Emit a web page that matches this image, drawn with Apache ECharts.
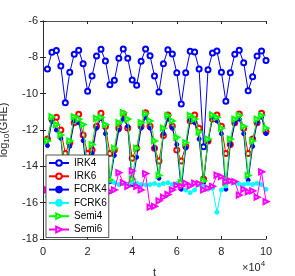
<!DOCTYPE html>
<html><head><meta charset="utf-8">
<script src="https://cdn.jsdelivr.net/npm/echarts@6/dist/echarts.min.js"></script>
<style>html,body{margin:0;padding:0;background:#fff}#c{width:295px;height:276px}</style>
</head><body><div id="c"></div>
<script>
var t = [2000,4000,6000,8000,10000,12000,14000,16000,18000,20000,
 22000,24000,26000,28000,30000,32000,34000,36000,38000,40000,
 42000,44000,46000,48000,50000,52000,54000,56000,58000,60000,
 62000,64000,66000,68000,70000,72000,74000,76000,78000,80000,
 82000,84000,86000,88000,90000,92000,94000,96000,98000,100000];
var xTicks = [0,2,4,6,8,10];
var yTicks = [-18,-16,-14,-12,-10,-8,-6];
var seriesNames = ['IRK4','IRK6','FCRK4','FCRK6','Semi4','Semi6'];
var IRK4 = [-8.64,-7.72,-7.63,-8.48,-10.50,-8.82,-7.83,-7.61,-8.35,-9.87,
 -9.03,-7.93,-7.56,-8.20,-9.51,-9.26,-8.05,-7.54,-8.05,-9.25,
 -9.54,-8.22,-7.54,-7.91,-9.03,-9.91,-8.35,-7.58,-7.82,-8.85,
 -10.57,-8.85,-7.67,-7.71,-8.64,-12.92,-8.68,-7.76,-7.65,-8.82,
 -10.42,-8.85,-7.83,-7.61,-8.30,-9.84,-9.07,-7.93,-7.65,-8.18];
var IRK6 = [-12.5,-11.4,-11.3,-12.0,-13.3,-12.7,-11.6,-11.13,-12.27,-13.3,
 -13.1,-11.8,-11.08,-11.8,-13.3,-13.1,-11.89,-11.1,-11.89,-13.56,
 -13.0,-11.8,-11.05,-11.8,-13.0,-13.7,-12.3,-11.17,-11.8,-13.1,
 -13.7,-12.9,-11.5,-11.17,-11.9,-14.7,-12.6,-11.4,-11.17,-11.8,
 -13.3,-12.8,-11.6,-11.12,-11.9,-13.3,-12.5,-11.6,-11.08,-12.1];
var FCRK4 = [-12.86,-11.54,-12.0,-12.46,-14.9,-12.9,-11.5,-11.6,-12.59,-14.9,
 -13.3,-11.9,-11.36,-12.2,-14.85,-13.4,-12.0,-11.4,-11.8,-15.0,
 -13.5,-11.9,-11.3,-11.9,-13.0,-14.66,-12.2,-11.4,-11.9,-12.8,
 -15.26,-13.0,-11.45,-11.6,-12.5,-14.9,-12.6,-11.3,-11.5,-12.2,
 -15.26,-12.8,-11.63,-11.4,-12.2,-14.75,-12.9,-11.6,-11.3,-12.2];
var FCRK6 = [-15.67,-15.3,-15.1,-15.0,-15.05,-15.0,-14.95,-15.0,-15.05,-15.0,
 -14.95,-15.0,-14.95,-14.95,-14.8,-14.9,-15.0,-14.95,-15.0,-14.9,
 -14.93,-15.0,-15.03,-15.0,-14.95,-15.03,-14.95,-14.9,-15.0,-14.95,
 -15.05,-15.3,-15.45,-15.3,-15.03,-15.1,-15.26,-15.2,-16.53,-15.3,
 -15.08,-14.85,-14.9,-14.97,-15.0,-14.95,-15.0,-14.93,-15.0,-15.26];
var Semi4 = [-12.6,-11.27,-11.7,-12.27,-14.5,-12.6,-11.27,-11.4,-11.7,-14.5,
 -12.8,-11.36,-11.3,-11.7,-14.75,-13.0,-11.6,-11.05,-11.4,-14.7,
 -13.0,-11.6,-11.1,-11.5,-12.6,-14.5,-11.9,-11.2,-11.5,-12.4,
 -14.9,-12.7,-11.2,-11.4,-12.1,-14.8,-12.5,-11.17,-11.3,-11.9,
 -14.9,-12.5,-11.4,-11.2,-11.8,-14.5,-12.6,-11.4,-11.2,-11.9];
var Semi6 = [-15.3,-15.2,-15.3,-15.1,-15.3,-15.2,-15.4,-15.2,-15.3,-15.1,
 -15.3,-15.2,-15.4,-15.5,-15.4,-15.3,-14.35,-14.9,-15.1,-14.25,
 -15.1,-15.3,-14.4,-16.25,-16.2,-15.9,-15.7,-15.55,-15.3,-15.05,
 -15.1,-14.93,-15.08,-14.93,-14.95,-15.3,-15.2,-15.1,-14.48,-14.57,
 -14.84,-14.8,-14.84,-15.58,-15.26,-15.4,-15.35,-15.7,-14.3,-15.94];

function pairs(v){ return t.map(function(x,i){ return [x, v[i]]; }); }
var AX = '#262626';
var FONT = 'Liberation Sans, Arial, sans-serif';
var styles = [
  {c:'#0000ff', sym:'emptyCircle', size:5, rot:0},
  {c:'#ff0000', sym:'emptyCircle', size:5, rot:0},
  {c:'#0000ff', sym:'circle', size:4, rot:0},
  {c:'#00ffff', sym:'circle', size:4, rot:0},
  {c:'#00ff00', sym:'emptyTriangle', size:5, rot:-90},
  {c:'#ff00ff', sym:'emptyTriangle', size:5, rot:-90}
];
var dataSets = [IRK4, IRK6, FCRK4, FCRK6, Semi4, Semi6];
var series = seriesNames.map(function(n,i){
  var s = styles[i];
  return {name:n, type:'line', data:pairs(dataSets[i]), symbol:s.sym, symbolSize:s.size,
    symbolRotate:s.rot, showAllSymbol:true, animation:false, z:2+i*0.01,
    lineStyle:{color:s.c, width:1}, itemStyle:{color:s.c, borderColor:s.c, borderWidth:1}};
});
var chart = echarts.init(document.getElementById('c'));
chart.setOption({
  backgroundColor:'#fff',
  animation:false,
  grid:{left:43, right:29, top:21, bottom:37, containLabel:false, outerBoundsMode:'none'},
  legend:{orient:'vertical', left:46, top:155, data:seriesNames,
    itemWidth:20, itemHeight:7, itemGap:1.3, padding:[2,2,2,2],
    backgroundColor:'#fff', borderColor:AX, borderWidth:0.8, borderRadius:0,
    textStyle:{fontFamily:FONT, fontSize:10, color:'#000', lineHeight:12}, z:10},
  xAxis:[{type:'value', min:0, max:100000, interval:20000,
    name:'t', nameLocation:'middle', nameGap:28,
    nameTextStyle:{fontFamily:FONT, fontSize:11, color:AX},
    axisLine:{lineStyle:{color:AX, width:0.8}}, axisTick:{inside:true, length:3, lineStyle:{color:AX}},
    axisLabel:{fontFamily:FONT, fontSize:11, color:AX, margin:7, formatter:function(v){return String(v/10000);}},
    splitLine:{show:false}},
   {type:'value', position:'top', min:0, max:100000, interval:20000,
    axisLine:{show:true, lineStyle:{color:AX, width:0.8}}, axisTick:{inside:true, length:3, lineStyle:{color:AX}},
    axisLabel:{show:false}, splitLine:{show:false}}],
  yAxis:[{type:'value', min:-18, max:-6, interval:2,
    name:'{a|log}{b|10}{a|(GHE)}', nameLocation:'middle', nameGap:31,
    nameTextStyle:{rich:{a:{fontFamily:FONT, fontSize:11, color:AX}, b:{fontFamily:FONT, fontSize:8, color:AX, verticalAlign:'bottom', padding:[6,0,0,0]}}},
    axisLine:{show:true, lineStyle:{color:AX, width:0.8}}, axisTick:{inside:true, length:3, lineStyle:{color:AX}},
    axisLabel:{fontFamily:FONT, fontSize:11, color:AX, margin:5}, splitLine:{show:false}},
   {type:'value', position:'right', min:-18, max:-6, interval:2,
    axisLine:{show:true, lineStyle:{color:AX, width:0.8}}, axisTick:{inside:true, length:3, lineStyle:{color:AX}},
    axisLabel:{show:false}, splitLine:{show:false}}],
  graphic:[{type:'text', left:242, top:260, style:{text:'×10{s|4}', fontFamily:FONT, fontSize:11, fill:AX,
    rich:{s:{fontFamily:FONT, fontSize:8, fill:AX, verticalAlign:'top', padding:[0,0,8,0]}}}}],
  series:series
});
</script></body></html>
